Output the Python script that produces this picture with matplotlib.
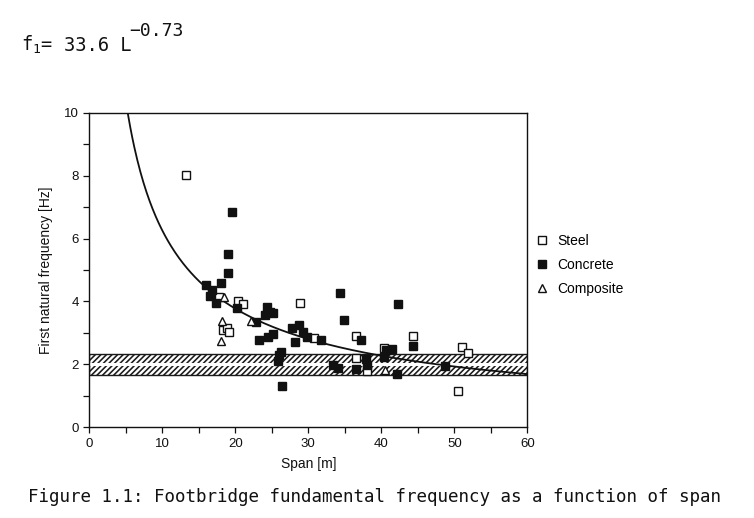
import numpy as np
import matplotlib
matplotlib.use("Agg")
import matplotlib.pyplot as plt
from matplotlib.lines import Line2D

plt.rcParams["font.family"] = ["Liberation Sans", "DejaVu Sans"]
plt.rcParams["hatch.linewidth"] = 1.15
plt.rcParams["mathtext.fontset"] = "custom"
plt.rcParams["mathtext.rm"] = "DejaVu Sans Mono"
plt.rcParams["mathtext.it"] = "DejaVu Sans Mono"
plt.rcParams["mathtext.default"] = "rm"

# Measured first natural frequencies [Hz] against span [m]
steel_span = [13.3, 17.7, 20.4, 21.1, 18.3, 18.8, 19.1, 28.9, 30.8, 36.5,
              44.3, 40.4, 51.0, 51.9, 50.5, 36.5, 38.0]
steel_freq = [8.01, 4.15, 4.01, 3.91, 3.09, 3.17, 3.04, 3.94, 2.83, 2.90,
              2.91, 2.53, 2.55, 2.37, 1.15, 2.21, 1.80]

concrete_span = [19.6, 19.0, 19.0, 18.0, 16.0, 16.8, 16.6, 17.4, 20.2, 22.9,
                 24.3, 24.75, 25.2, 24.1, 23.2, 24.5, 25.2, 27.8, 28.7, 29.3,
                 28.2, 29.8, 31.8, 26.0, 26.3, 25.9, 26.4, 33.4, 34.1, 34.4,
                 34.9, 37.2, 36.6, 37.9, 38.1, 40.7, 41.5, 40.4, 42.1, 42.3,
                 44.3, 48.7]
concrete_freq = [6.83, 5.51, 4.89, 4.60, 4.52, 4.36, 4.17, 3.94, 3.78, 3.36,
                 3.83, 3.67, 3.62, 3.57, 2.78, 2.88, 2.97, 3.15, 3.25, 3.02,
                 2.72, 2.88, 2.79, 2.30, 2.38, 2.12, 1.30, 1.98, 1.87, 4.28,
                 3.41, 2.78, 1.85, 2.17, 1.98, 2.46, 2.48, 2.24, 1.69, 3.91,
                 2.59, 1.96]

composite_span = [18.5, 22.2, 18.2, 18.0, 40.5]
composite_freq = [4.15, 3.38, 3.38, 2.75, 1.82]

# Regression f1 = 33.6 * L^-0.73
fit_coef = 33.6
fit_exp = -0.73

# Critical frequency range for pedestrian excitation
band_low, band_mid, band_high = 1.65, 2.0, 2.33

W, H = 754, 518
fig = plt.figure(figsize=(W / 100, H / 100), dpi=100)
ax = fig.add_axes([89.3 / W, 1 - 427.3 / H, 438 / W, 314.6 / H])

ax.set_xlim(0, 60)
ax.set_ylim(0, 10)

# hatched band with a white centre stripe
ax.axhspan(band_low, band_high, facecolor="white", edgecolor="#1a1a1a",
           hatch="//////", linewidth=1.0, zorder=1)
ax.axhline(band_mid, color="white", linewidth=2.2, zorder=1.5)

span = np.linspace(4.5, 60, 400)
ax.plot(span, fit_coef * span ** fit_exp, color="#111111", linewidth=1.3, zorder=2)

mk = dict(linestyle="none", markeredgewidth=1.0, zorder=3)
ax.plot(steel_span, steel_freq, marker="s", markersize=5.2,
        markerfacecolor="white", markeredgecolor="#111111", **mk)
ax.plot(concrete_span, concrete_freq, marker="s", markersize=5.2,
        markerfacecolor="#111111", markeredgecolor="#111111", **mk)
ax.plot(composite_span, composite_freq, marker="^", markersize=5.2,
        markerfacecolor="white", markeredgecolor="#111111", **mk)

ax.set_xticks(np.arange(0, 61, 10))
ax.set_xticks(np.arange(5, 60, 10), minor=True)
ax.set_yticks(np.arange(0, 11, 2))
ax.set_yticks(np.arange(1, 10, 2), minor=True)
ax.tick_params(which="both", direction="out", length=4, width=0.9,
               labelsize=9.5, colors="#111111")
for s in ax.spines.values():
    s.set_linewidth(1.0)
    s.set_color("#111111")

ax.set_xlabel("Span [m]", fontsize=10, labelpad=5, color="#111111")
ax.set_ylabel("First natural frequency [Hz]", fontsize=10, labelpad=8,
              color="#111111")

handles = [
    Line2D([], [], marker="s", linestyle="none", markersize=5.2,
           markerfacecolor="white", markeredgecolor="#111111"),
    Line2D([], [], marker="s", linestyle="none", markersize=5.2,
           markerfacecolor="#111111", markeredgecolor="#111111"),
    Line2D([], [], marker="^", linestyle="none", markersize=5.2,
           markerfacecolor="white", markeredgecolor="#111111"),
]
fig.legend(handles, ["Steel", "Concrete", "Composite"],
           loc="upper left", bbox_to_anchor=(536 / W, 1 - 234 / H),
           frameon=False, fontsize=10, handlelength=0.8, handletextpad=0.7,
           labelspacing=0.72, borderpad=0, borderaxespad=0)

mono = "DejaVu Sans Mono"
ink = "#111111"


def put(x, y, s, size=13.5):
    fig.text(x / W, 1 - y / H, s, family=mono, fontsize=size, color=ink,
             ha="left", va="baseline")


put(21, 50.7, r"f$_{1}$=")
put(64, 50.7, "33.6 L")
put(129, 36.5, "\u22120.73", size=13)

fig.text(28 / W, 1 - 502 / H,
         "Figure 1.1: Footbridge fundamental frequency as a function of span",
         family=mono, fontsize=12.6, color=ink, ha="left", va="baseline")

fig.savefig("out.png", dpi=100, facecolor="white")
